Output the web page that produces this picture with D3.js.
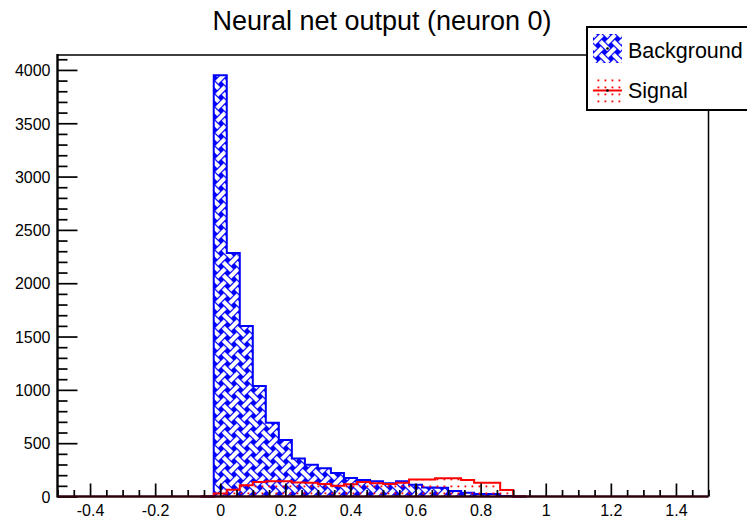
<!DOCTYPE html>
<html>
<head>
<meta charset="utf-8">
<script src="https://cdn.jsdelivr.net/npm/d3@7/dist/d3.min.js"></script>
<style>
  html, body { margin: 0; padding: 0; background: #fff; }
  svg { display: block; font-family: "Liberation Sans", Arial, Helvetica, sans-serif; }
</style>
</head>
<body>
<svg id="chart" width="747" height="522"></svg>
<script>
// Histogram binning (lower edges of 25 bins plus the upper edge of the last one)
const binEdges = [-0.06, -0.02, 0.02, 0.06, 0.10, 0.14, 0.18, 0.22, 0.26, 0.30,
                  0.34, 0.38, 0.42, 0.46, 0.50, 0.54, 0.58, 0.62, 0.66, 0.70,
                  0.74, 0.78, 0.82, 0.86, 0.90, 0.94];

// Entries per bin
const backgroundCounts = [0, 3950, 2283, 1598, 1036, 692, 530, 357, 298, 264,
                          220, 173, 155, 143, 125, 142, 110, 85, 83, 52,
                          36, 23, 23, 5, 0];
const signalCounts = [0, 28, 64, 105, 135, 142, 142, 132, 130, 118,
                      100, 115, 135, 124, 117, 130, 160, 160, 172, 172,
                      155, 130, 128, 60, 0];

const xTickValues = [-0.4, -0.2, 0, 0.2, 0.4, 0.6, 0.8, 1, 1.2, 1.4];
const xTickLabels = ["-0.4", "-0.2", "0", "0.2", "0.4", "0.6", "0.8", "1", "1.2", "1.4"];
const yTickValues = [0, 500, 1000, 1500, 2000, 2500, 3000, 3500, 4000];
const yTickLabels = ["0", "500", "1000", "1500", "2000", "2500", "3000", "3500", "4000"];

const titleText = "Neural net output (neuron 0)";
const legendLabels = ["Background", "Signal"];

// ---- layout ----
const frame = { left: 57.5, right: 708.5, top: 55, bottom: 496.5 };
const svg = d3.select("#chart");

const x = d3.scaleLinear().domain([-0.5, 1.5]).range([frame.left, frame.right]);
const y = d3.scaleLinear().domain([0, 4140]).range([frame.bottom, frame.top]);

// ---- fill patterns ----
const defs = svg.append("defs");

// woven basket pattern for the background histogram
const s = 13;
const weave = defs.append("pattern")
  .attr("id", "weave").attr("patternUnits", "userSpaceOnUse")
  .attr("width", s).attr("height", s);
weave.append("rect").attr("width", s).attr("height", s).attr("fill", "#0000ff");
const strand = (g, x1, y1, x2, y2, over) => {
  if (over) {
    g.append("line").attr("x1", x1).attr("y1", y1).attr("x2", x2).attr("y2", y2)
      .attr("stroke", "#0000ff").attr("stroke-width", 6.4);
  }
  g.append("line").attr("x1", x1).attr("y1", y1).attr("x2", x2).attr("y2", y2)
    .attr("stroke", "#fff").attr("stroke-width", 4.1);
};
// "\" strands
strand(weave, -2, -2, s + 2, s + 2, false);
strand(weave, -2, s - 2, 2, s + 2, false);
strand(weave, s - 2, -2, s + 2, 2, false);
// "/" strands
strand(weave, -2, 2, 2, -2, false);
strand(weave, -2, s + 2, s + 2, -2, false);
strand(weave, s - 2, s + 2, s + 2, s - 2, false);
// crossings: "\" on top in the middle, "/" on top at the corners
strand(weave, s / 2 - 3.8, s / 2 - 3.8, s / 2 + 3.8, s / 2 + 3.8, true);
[[0, 0], [s, 0], [0, s], [s, s]].forEach(([cx, cy]) =>
  strand(weave, cx - 3.8, cy + 3.8, cx + 3.8, cy - 3.8, true));

// sparse dots for the signal histogram (transparent background)
const dots = defs.append("pattern")
  .attr("id", "dots").attr("patternUnits", "userSpaceOnUse")
  .attr("width", 7).attr("height", 7);
dots.append("rect").attr("x", 2.5).attr("y", 2.5).attr("width", 1.8).attr("height", 1.8)
  .attr("fill", "#ff0000");

// ---- histogram outlines ----
function stepPoints(counts) {
  const pts = [[binEdges[0], 0]];
  counts.forEach((c, i) => {
    pts.push([binEdges[i], c]);
    pts.push([binEdges[i + 1], c]);
  });
  pts.push([binEdges[binEdges.length - 1], 0]);
  return pts;
}
const line = d3.line().x(d => x(d[0])).y(d => y(d[1]));
const area = d3.area().x(d => x(d[0])).y0(y(0)).y1(d => y(d[1]));

const bgPts = stepPoints(backgroundCounts);
const sigPts = stepPoints(signalCounts);

svg.append("path").attr("d", area(bgPts)).attr("fill", "url(#weave)");
svg.append("path").attr("d", line(bgPts)).attr("fill", "none")
  .attr("stroke", "#0000ff").attr("stroke-width", 2);
svg.append("path").attr("d", area(sigPts)).attr("fill", "url(#dots)");
svg.append("path").attr("d", line(sigPts)).attr("fill", "none")
  .attr("stroke", "#ff0000").attr("stroke-width", 2);

// ---- axes ----
const yMinor = d3.range(0, 4141, 100).filter(v => v % 500 !== 0);
const xMinor = d3.range(-50, 151, 5).map(v => v / 100)
  .filter(v => Math.round(v * 100) % 20 !== 0);

const yAxis = svg.append("g").attr("transform", `translate(${frame.left},0)`)
  .call(d3.axisLeft(y).tickValues(yTickValues)
    .tickFormat((d, i) => yTickLabels[i]).tickSizeInner(-20).tickSizeOuter(0).tickPadding(7));
svg.append("g").attr("transform", `translate(${frame.left},0)`)
  .call(d3.axisLeft(y).tickValues(yMinor).tickFormat("").tickSizeInner(-10).tickSizeOuter(0));

const xAxis = svg.append("g").attr("transform", `translate(0,${frame.bottom})`)
  .call(d3.axisBottom(x).tickValues(xTickValues)
    .tickFormat((d, i) => xTickLabels[i]).tickSizeInner(-13).tickSizeOuter(0).tickPadding(8));
svg.append("g").attr("transform", `translate(0,${frame.bottom})`)
  .call(d3.axisBottom(x).tickValues(xMinor).tickFormat("").tickSizeInner(-6.5).tickSizeOuter(0));

svg.selectAll(".domain").remove();
svg.selectAll(".tick line").attr("stroke", "#000").attr("stroke-width", 1.7);
svg.selectAll(".tick text").attr("font-size", 16).attr("fill", "#000")
  .attr("font-family", "'Liberation Sans', Arial, sans-serif");
yAxis.selectAll(".tick text").attr("dy", "0.36em");

// frame
svg.append("line").attr("x1", frame.left).attr("x2", frame.right)
  .attr("y1", frame.top).attr("y2", frame.top).attr("stroke", "#000").attr("stroke-width", 1.5);
svg.append("line").attr("x1", frame.right).attr("x2", frame.right)
  .attr("y1", frame.top).attr("y2", frame.bottom).attr("stroke", "#000").attr("stroke-width", 1.5);
svg.append("line").attr("x1", frame.left).attr("x2", frame.left)
  .attr("y1", frame.top - 1).attr("y2", frame.bottom + 1).attr("stroke", "#000").attr("stroke-width", 2.4);
svg.append("line").attr("x1", frame.left).attr("x2", frame.right)
  .attr("y1", frame.bottom).attr("y2", frame.bottom).attr("stroke", "#2b0008").attr("stroke-width", 2.4);

// ---- title ----
svg.append("text").attr("x", 382).attr("y", 30).attr("text-anchor", "middle")
  .attr("font-size", 27).attr("fill", "#000").text(titleText);

// ---- legend ----
const lg = svg.append("g");
lg.append("rect").attr("x", 587).attr("y", 27).attr("width", 200).attr("height", 83)
  .attr("fill", "#fff").attr("stroke", "#000").attr("stroke-width", 2);
// background entry
lg.append("rect").attr("x", 593).attr("y", 34).attr("width", 29).attr("height", 29)
  .attr("fill", "url(#weave)");
lg.append("circle").attr("cx", 607.5).attr("cy", 48.5).attr("r", 1.3).attr("fill", "#000");
lg.append("text").attr("x", 628).attr("y", 57.5).attr("font-size", 21.5).attr("fill", "#000")
  .text(legendLabels[0]);
// signal entry
lg.append("rect").attr("x", 593).attr("y", 77).attr("width", 29).attr("height", 28)
  .attr("fill", "url(#dots)");
lg.append("line").attr("x1", 593).attr("x2", 622).attr("y1", 90.5).attr("y2", 90.5)
  .attr("stroke", "#ff0000").attr("stroke-width", 2);
lg.append("circle").attr("cx", 607.5).attr("cy", 90.5).attr("r", 1.3).attr("fill", "#000");
lg.append("text").attr("x", 628).attr("y", 98).attr("font-size", 21.5).attr("fill", "#000")
  .text(legendLabels[1]);
</script>
</body>
</html>
